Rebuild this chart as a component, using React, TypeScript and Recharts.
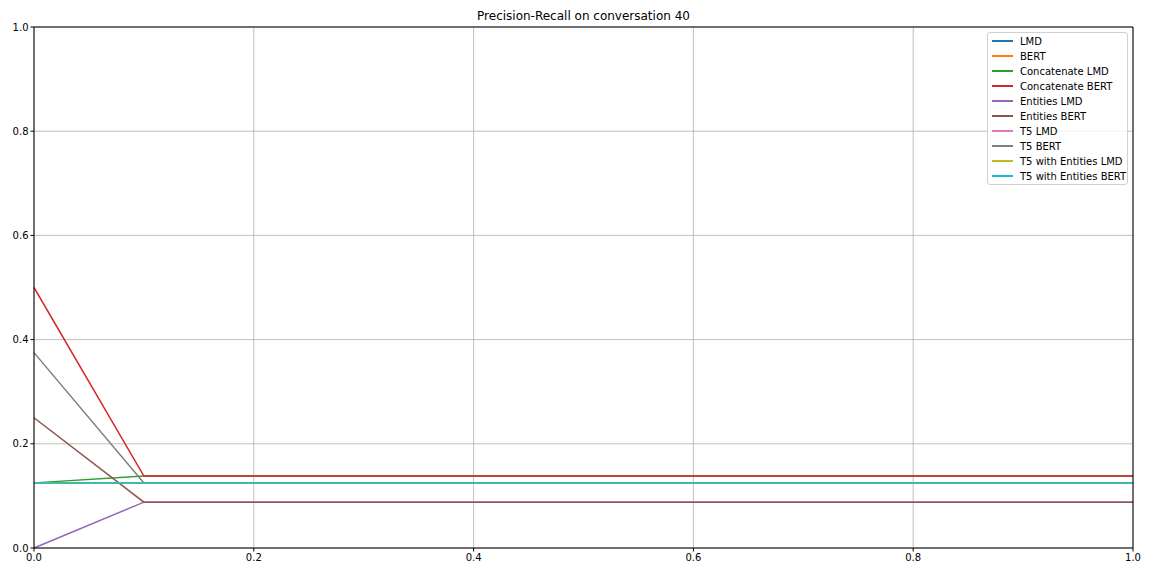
import React from 'react';
import { LineChart, Line, XAxis, YAxis, CartesianGrid, ReferenceLine } from 'recharts';

const recall = [0, 0.1, 0.2, 0.3, 0.4, 0.5, 0.6, 0.7, 0.8, 0.9, 1.0];

const lmd = [0.125, 0.125, 0.125, 0.125, 0.125, 0.125, 0.125, 0.125, 0.125, 0.125, 0.125];
const bert = [0.125, 0.125, 0.125, 0.125, 0.125, 0.125, 0.125, 0.125, 0.125, 0.125, 0.125];
const concatLmd = [0.125, 0.138, 0.138, 0.138, 0.138, 0.138, 0.138, 0.138, 0.138, 0.138, 0.138];
const concatBert = [0.5, 0.138, 0.138, 0.138, 0.138, 0.138, 0.138, 0.138, 0.138, 0.138, 0.138];
const entitiesLmd = [0, 0.088, 0.088, 0.088, 0.088, 0.088, 0.088, 0.088, 0.088, 0.088, 0.088];
const entitiesBert = [0.25, 0.088, 0.088, 0.088, 0.088, 0.088, 0.088, 0.088, 0.088, 0.088, 0.088];
const t5Lmd = [0.125, 0.125, 0.125, 0.125, 0.125, 0.125, 0.125, 0.125, 0.125, 0.125, 0.125];
const t5Bert = [0.375, 0.125, 0.125, 0.125, 0.125, 0.125, 0.125, 0.125, 0.125, 0.125, 0.125];
const t5EntLmd = [0.125, 0.125, 0.125, 0.125, 0.125, 0.125, 0.125, 0.125, 0.125, 0.125, 0.125];
const t5EntBert = [0.125, 0.125, 0.125, 0.125, 0.125, 0.125, 0.125, 0.125, 0.125, 0.125, 0.125];

const ticks = [0, 0.2, 0.4, 0.6, 0.8, 1.0];

const series = [
  { key: 'lmd', name: 'LMD', values: lmd, color: '#1f77b4' },
  { key: 'bert', name: 'BERT', values: bert, color: '#ff7f0e' },
  { key: 'concatLmd', name: 'Concatenate LMD', values: concatLmd, color: '#2ca02c' },
  { key: 'concatBert', name: 'Concatenate BERT', values: concatBert, color: '#d62728' },
  { key: 'entitiesLmd', name: 'Entities LMD', values: entitiesLmd, color: '#9467bd' },
  { key: 'entitiesBert', name: 'Entities BERT', values: entitiesBert, color: '#8c564b' },
  { key: 't5Lmd', name: 'T5 LMD', values: t5Lmd, color: '#e377c2' },
  { key: 't5Bert', name: 'T5 BERT', values: t5Bert, color: '#7f7f7f' },
  { key: 't5EntLmd', name: 'T5 with Entities LMD', values: t5EntLmd, color: '#bcbd22' },
  { key: 't5EntBert', name: 'T5 with Entities BERT', values: t5EntBert, color: '#17becf' },
];

const data = recall.map((r, i) => {
  const row: Record<string, number> = { recall: r };
  series.forEach(s => {
    row[s.key] = s.values[i];
  });
  return row;
});

const font = '"DejaVu Sans", sans-serif';

function LegendBox() {
  return (
    <div
      style={{
        position: 'absolute',
        left: 987,
        top: 32,
        width: 141,
        height: 153,
        boxSizing: 'border-box',
        background: 'rgba(255,255,255,0.8)',
        border: '1px solid #d0d0d0',
        borderRadius: 3,
        fontFamily: font,
        fontSize: 10,
        paddingTop: 0.5,
      }}
    >
      {series.map(s => (
        <div key={s.key} style={{ height: 15, display: 'flex', alignItems: 'center', position: 'relative' }}>
          <div style={{ position: 'absolute', left: 4, width: 21, height: 1.5, background: s.color }} />
          <span style={{ position: 'absolute', left: 32, whiteSpace: 'nowrap', color: '#000' }}>{s.name}</span>
        </div>
      ))}
    </div>
  );
}

export default function App() {
  return (
    <div style={{ position: 'fixed', left: 0, top: 0, width: 1152, height: 576, background: '#fff' }}>
      <div
        style={{
          position: 'absolute',
          left: 34,
          width: 1099,
          top: 9,
          textAlign: 'center',
          fontFamily: font,
          fontSize: 12,
          color: '#000',
        }}
      >
        Precision-Recall on conversation 40
      </div>
      <LineChart width={1152} height={576} data={data} margin={{ top: 27, right: 19, left: 0, bottom: 0 }}>
        <CartesianGrid stroke="#b0b0b0" strokeWidth={0.8} />
        <XAxis
          dataKey="recall"
          type="number"
          domain={[0, 1]}
          ticks={ticks}
          tickFormatter={(v: number) => v.toFixed(1)}
          height={28}
          stroke="#000"
          tickSize={3.5}
          tickLine={{ stroke: '#000' }}
          tick={{ fill: '#000', fontSize: 10, fontFamily: font }}
          interval={0}
        />
        <YAxis
          type="number"
          domain={[0, 1]}
          ticks={ticks}
          tickFormatter={(v: number) => v.toFixed(1)}
          width={34}
          stroke="#000"
          tickSize={3.5}
          tickLine={{ stroke: '#000' }}
          tick={{ fill: '#000', fontSize: 10, fontFamily: font }}
          interval={0}
        />
        {series.map(s => (
          <Line
            key={s.key}
            type="linear"
            dataKey={s.key}
            name={s.name}
            stroke={s.color}
            strokeWidth={1.5}
            dot={false}
            activeDot={false}
            isAnimationActive={false}
          />
        ))}
        <ReferenceLine y={1} stroke="#000" strokeWidth={1} />
        <ReferenceLine x={1} stroke="#000" strokeWidth={1} />
      </LineChart>
      <LegendBox />
    </div>
  );
}
